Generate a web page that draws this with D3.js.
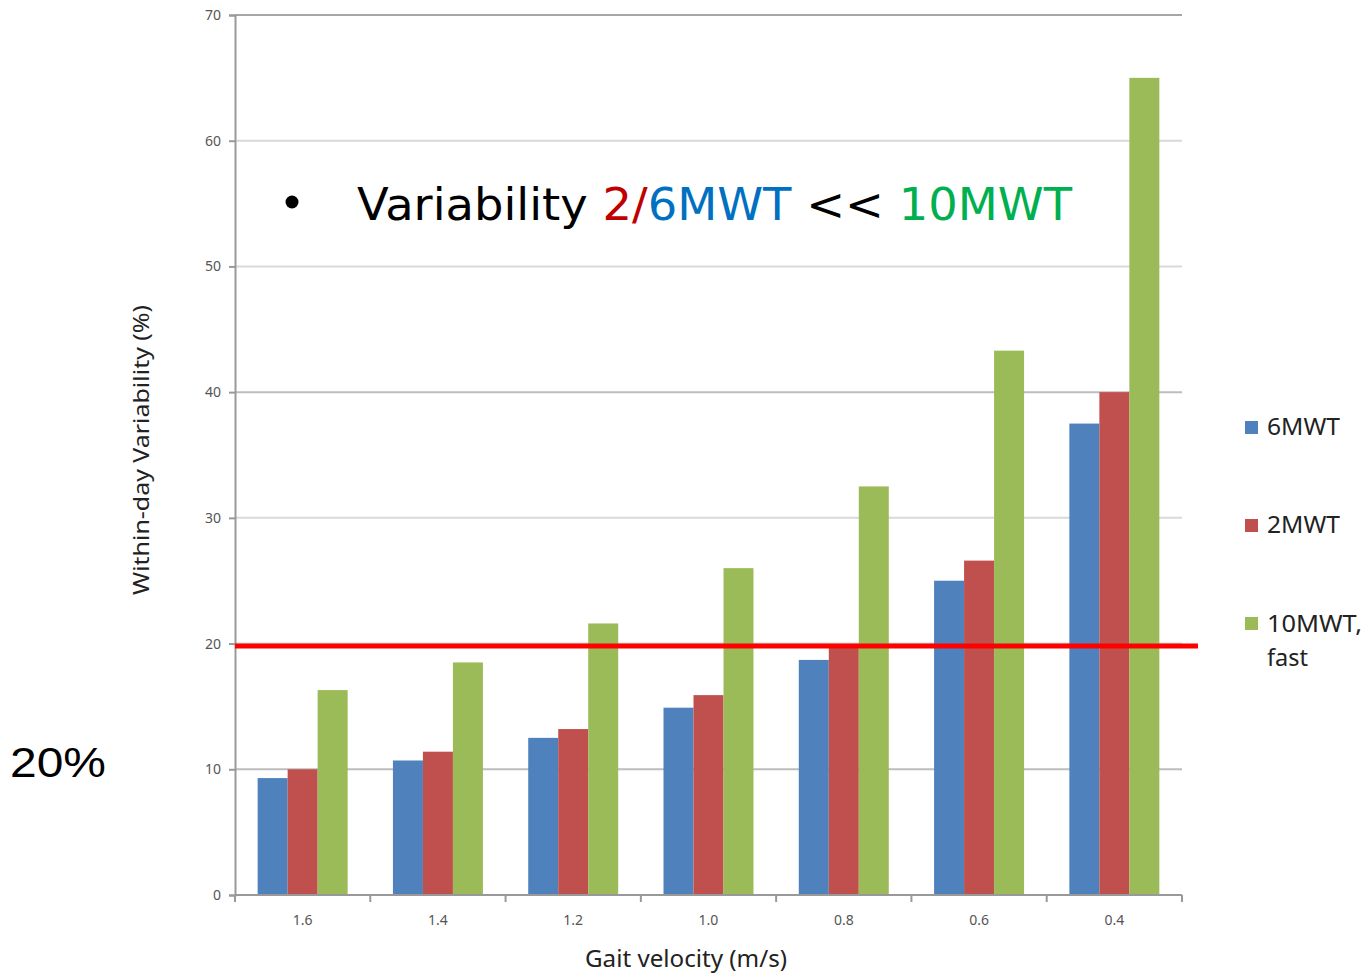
<!DOCTYPE html>
<html><head><meta charset="utf-8">
<script src="https://cdn.jsdelivr.net/npm/d3@7/dist/d3.min.js"></script>
<style>body{margin:0;background:#fff}svg{display:block}</style>
</head><body>
<svg id="c" width="1364" height="973"></svg>
<script>
const categories = ["1.6","1.4","1.2","1.0","0.8","0.6","0.4"];
const seriesNames = ["6MWT","2MWT","10MWT, fast"];
const v6MWT  = [9.3, 10.7, 12.5, 14.9, 18.7, 25.0, 37.5];
const v2MWT  = [10.0, 11.4, 13.2, 15.9, 19.9, 26.6, 40.0];
const v10MWT = [16.3, 18.5, 21.6, 26.0, 32.5, 43.3, 65.0];
const yTicks = [0,10,20,30,40,50,60,70];
const thresholdValue = 19.8;
const colors = ["#4f81bd","#c0504d","#9bbb59"];

const seriesValues = [v6MWT, v2MWT, v10MWT];
const svg = d3.select("#c");
const L = 235, R = 1182, T = 15, B = 895;

const y = d3.scaleLinear().domain([0,70]).range([B,T]);
const x0 = d3.scaleBand().domain(categories).range([L,R]).padding(0);
const x1 = d3.scaleBand().domain(seriesNames).range([0,x0.bandwidth()]).paddingInner(0).paddingOuter(0.755);

// gridlines
svg.append("g").selectAll("line").data(yTicks.filter(d=>d>0)).join("line")
  .attr("x1",L).attr("x2",R).attr("y1",d=>y(d)).attr("y2",d=>y(d))
  .attr("stroke",d=> d===70 ? "#a6a6a6" : (d===40||d===10 ? "#bdbdbd":"#d9d9d9")).attr("stroke-width",2);

// bars
const g = svg.append("g");
categories.forEach((c,i)=>{
  seriesNames.forEach((s,j)=>{
    g.append("rect")
      .attr("x", x0(c)+x1(s)).attr("width", x1.bandwidth())
      .attr("y", y(seriesValues[j][i])).attr("height", B - y(seriesValues[j][i]))
      .attr("fill", colors[j]);
  });
});

// y axis
const yAxis = d3.axisLeft(y).tickValues(yTicks).tickSize(6).tickPadding(8);
const ya = svg.append("g").attr("transform",`translate(${L},0)`).call(yAxis);
ya.select(".domain").attr("stroke","#999").attr("stroke-width",2);
ya.selectAll(".tick line").attr("stroke","#999").attr("stroke-width",2);
ya.selectAll(".tick text").attr("fill","#555").style("font-family","Noto Sans").style("font-size","14px");

// x axis
const xa = svg.append("g").attr("transform",`translate(0,${B})`);
xa.append("line").attr("x1",L).attr("x2",R).attr("stroke","#999").attr("stroke-width",2);
const bounds = categories.map(c=>x0(c)).concat([R]);
xa.selectAll("line.t").data(bounds).join("line").attr("class","t")
  .attr("x1",d=>d).attr("x2",d=>d).attr("y1",0).attr("y2",7).attr("stroke","#999").attr("stroke-width",2);
xa.selectAll("text").data(categories).join("text")
  .attr("x",d=>x0(d)+x0.bandwidth()/2).attr("y",30).attr("text-anchor","middle")
  .attr("fill","#555").style("font-family","Noto Sans").style("font-size","14px").text(d=>d);

// threshold line
svg.append("line").attr("x1",L).attr("x2",1198).attr("y1",y(thresholdValue)).attr("y2",y(thresholdValue))
  .attr("stroke","#ff0000").attr("stroke-width",5);

// axis titles
svg.append("text").attr("transform","translate(149,450) rotate(-90)").attr("text-anchor","middle")
  .style("font-family","Noto Sans").style("font-size","21px").attr("fill","#222")
  .attr("textLength",290).attr("lengthAdjust","spacingAndGlyphs").text("Within-day Variability (%)");
svg.append("text").attr("x",686).attr("y",967).attr("text-anchor","middle")
  .style("font-family","Noto Sans").style("font-size","23px").attr("fill","#222")
  .attr("textLength",202).attr("lengthAdjust","spacingAndGlyphs").text("Gait velocity (m/s)");

// legend
const legY = [427, 525, 623];
seriesNames.forEach((s,j)=>{
  svg.append("rect").attr("x",1245).attr("y",legY[j]-6).attr("width",13).attr("height",13).attr("fill",colors[j]);
});
const lt = (t,yy,w)=>svg.append("text").attr("x",1267).attr("y",yy).style("font-family","Noto Sans").style("font-size","23px").attr("fill","#222")
  .attr("textLength",w).attr("lengthAdjust","spacingAndGlyphs").text(t);
lt("6MWT",435,73); lt("2MWT",533,73); lt("10MWT,",632,95); lt("fast",666,41);

// headline
svg.append("circle").attr("cx",292).attr("cy",202).attr("r",6.5).attr("fill","#000");
const h = svg.append("text").attr("x",357).attr("y",220).style("font-family","DejaVu Sans").style("font-size","44px")
  .attr("textLength",715).attr("lengthAdjust","spacingAndGlyphs");
h.append("tspan").attr("fill","#000").text("Variability ");
h.append("tspan").attr("fill","#c00000").text("2/");
h.append("tspan").attr("fill","#0070c0").text("6MWT");
h.append("tspan").attr("fill","#000").text(" << ");
h.append("tspan").attr("fill","#00b050").text("10MWT");

svg.append("text").attr("x",10).attr("y",777).style("font-family","Liberation Sans").style("font-size","42px").attr("fill","#000")
  .attr("textLength",96).attr("lengthAdjust","spacingAndGlyphs").text("20%");
</script>
</body></html>
